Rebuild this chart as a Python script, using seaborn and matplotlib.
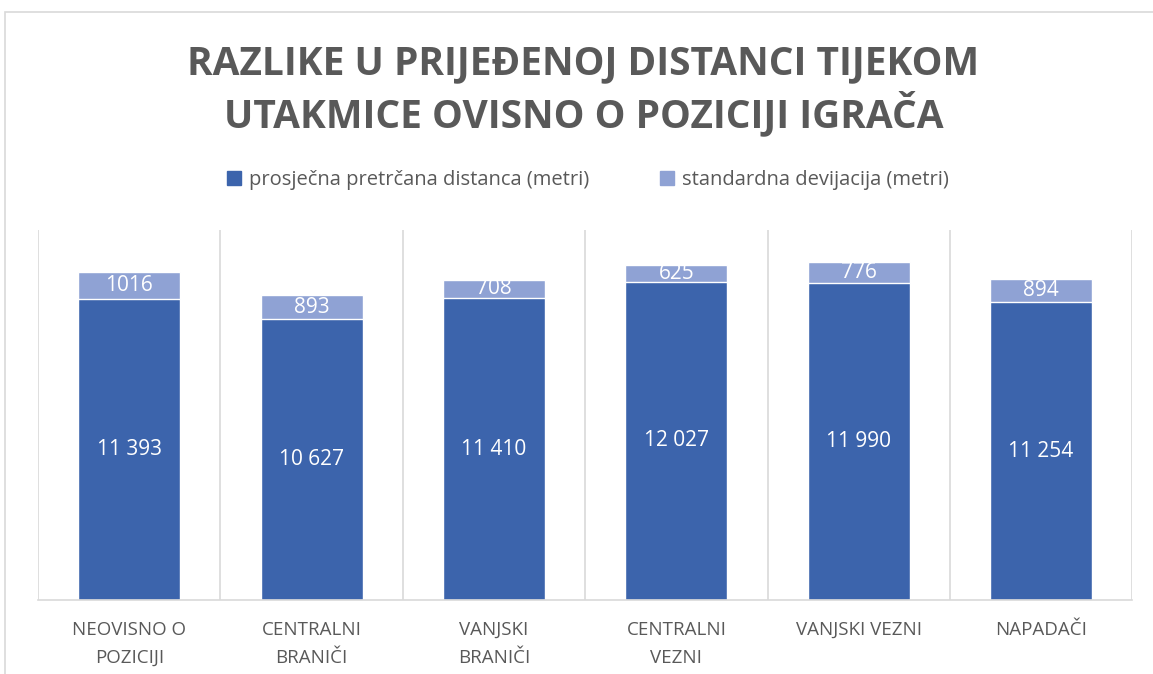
import pandas as pd
import matplotlib.pyplot as plt
import seaborn as sns
from matplotlib.patches import Patch

categories = ["NEOVISNO O\nPOZICIJI", "CENTRALNI\nBRANIČI", "VANJSKI\nBRANIČI",
              "CENTRALNI\nVEZNI", "VANJSKI VEZNI", "NAPADAČI"]
avg_distance = [11393, 10627, 11410, 12027, 11990, 11254]
std_dev = [1016, 893, 708, 625, 776, 894]

df = pd.DataFrame({"pozicija": categories, "prosjek": avg_distance, "sd": std_dev})
df["ukupno"] = df["prosjek"] + df["sd"]

dark = "#3C64AC"
light = "#8FA2D4"
grey = "#595959"

sns.set_style("white")
plt.rcParams["font.family"] = ["Open Sans", "DejaVu Sans"]

fig = plt.figure(figsize=(11.53, 6.74), dpi=100)
ax = fig.add_axes([0.033, 0.110, 0.949, 0.549])

# light bar = full height, dark bar drawn on top of it
sns.barplot(data=df, x="pozicija", y="ukupno", color=light, width=0.56,
            saturation=1, ax=ax)
sns.barplot(data=df, x="pozicija", y="prosjek", color=dark, width=0.56,
            saturation=1, ax=ax)

ax.set_ylim(0, 14000)
ax.set_xlim(-0.5, len(categories) - 0.5)
ax.set_xlabel("")
ax.set_ylabel("")
ax.set_yticks([])
for s in ["top", "right", "left"]:
    ax.spines[s].set_visible(False)
ax.spines["bottom"].set_color("#D9D9D9")
ax.spines["bottom"].set_linewidth(1.2)

# separators between categories
for xb in range(len(categories) + 1):
    ax.axvline(xb - 0.5, color="#D9D9D9", lw=1.2, zorder=0)

ax.tick_params(axis="x", length=0, pad=15, labelsize=13.5, labelcolor=grey)
for lbl in ax.get_xticklabels():
    lbl.set_linespacing(1.75)

for i, row in df.iterrows():
    ax.text(i, row["prosjek"] / 2, f"{row['prosjek']:,}".replace(",", " "),
            ha="center", va="center", color="white", fontsize=15)
    ax.text(i, row["prosjek"] + row["sd"] / 2, str(row["sd"]),
            ha="center", va="center", color="white", fontsize=15)

fig.text(0.506, 0.866, "RAZLIKE U PRIJEĐENOJ DISTANCI TIJEKOM\nUTAKMICE OVISNO O POZICIJI IGRAČA",
         ha="center", va="center", fontsize=28, fontweight="bold", color=grey,
         linespacing=1.2)

handles = [Patch(color=dark, label="prosječna pretrčana distanca (metri)"),
           Patch(color=light, label="standardna devijacija (metri)")]
fig.legend(handles=handles, loc="center", bbox_to_anchor=(0.51, 0.733), ncol=2,
           frameon=False, fontsize=14.5, handlelength=0.7, handleheight=0.7,
           handletextpad=0.4, columnspacing=3.5, labelcolor=grey)

# outer chart border
fig.add_artist(plt.Rectangle((0.004, -0.02), 1.1, 1.002, transform=fig.transFigure,
                             fill=False, edgecolor="#D9D9D9", lw=1.2))

fig.savefig("out.png", dpi=100)
